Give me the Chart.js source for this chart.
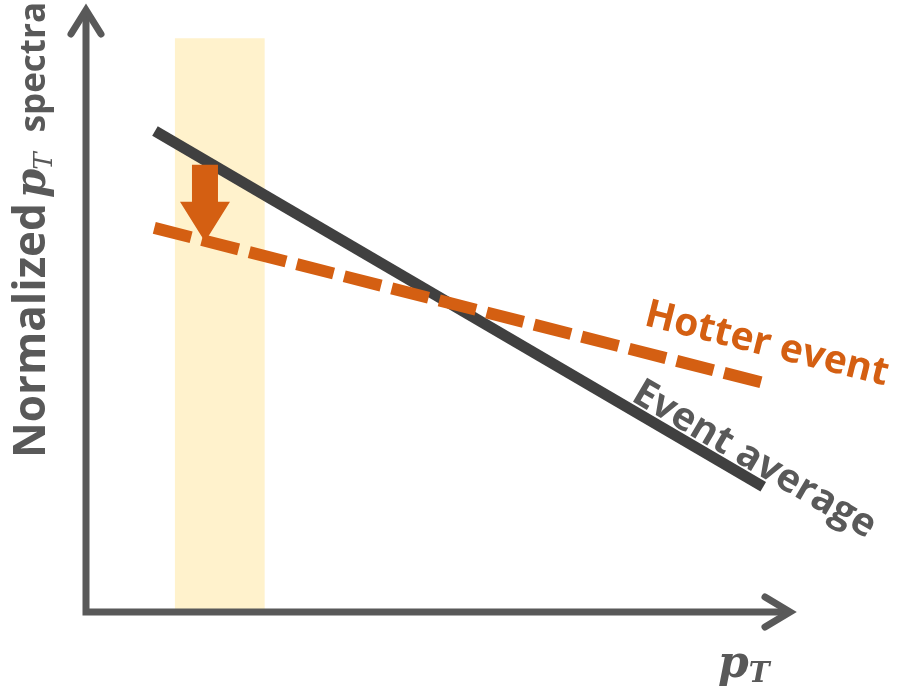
<!DOCTYPE html>
<html lang="en">
<head>
    <meta charset="UTF-8">
    <title>Normalized pT spectra</title>
    <style>
        body {
            margin: 0;
            background: #ffffff;
        }
        .chart-container {
            width: 897px;
            height: 692px;
        }
    </style>
</head>
<body>
    <div class="chart-container">
        <canvas id="spectraChart" width="897" height="692"></canvas>
    </div>

    <script src="https://cdn.jsdelivr.net/npm/chart.js"></script>
    <script>
        // axis ranges (arbitrary units, no ticks in the sketch)
        const xRange = [0, 100];
        const yRange = [0, 100];

        // event average spectrum (solid line)
        const averageX = [9.8, 96.2];
        const averageY = [79.9, 20.8];

        // hotter event spectrum (dashed line)
        const hotterX = [9.7, 96.4];
        const hotterY = [63.8, 38.0];

        // highlighted low-pT window
        const bandX = [12.6, 25.4];
        const bandTop = 95.3;

        // arrow showing the drop in the window
        const shiftX = 16.9;
        const shiftFrom = 74.3;
        const shiftTo = 61.5;

        const grey = '#595959';
        const orange = '#D45F12';

        function pts(xs, ys) {
            return xs.map((x, i) => ({ x: x, y: ys[i] }));
        }

        // draws a label made of pieces with different fonts, rotated
        function drawPieces(ctx, x, y, angle, color, pieces) {
            ctx.save();
            ctx.translate(x, y);
            ctx.rotate(angle);
            ctx.fillStyle = color;
            ctx.textBaseline = 'alphabetic';
            ctx.textAlign = 'left';
            let cx = 0;
            pieces.forEach(p => {
                ctx.font = p.font;
                ctx.fillText(p.text, cx, p.dy || 0);
                cx += ctx.measureText(p.text).width + (p.gap || 0);
            });
            ctx.restore();
        }

        const sketchPlugin = {
            id: 'sketch',
            afterDatasetsDraw(chart) {
                const ctx = chart.ctx;
                const xs = chart.scales.x;
                const ys = chart.scales.y;
                const x0 = xs.getPixelForValue(xRange[0]);
                const x1 = xs.getPixelForValue(xRange[1]);
                const y0 = ys.getPixelForValue(yRange[0]);
                const y1 = ys.getPixelForValue(yRange[1]);

                // axes with open arrow heads
                ctx.save();
                ctx.strokeStyle = grey;
                ctx.lineWidth = 7;
                ctx.lineCap = 'butt';
                ctx.beginPath();
                ctx.moveTo(x0, y0 + 3.5);
                ctx.lineTo(x0, y1 + 2);
                ctx.moveTo(x0 - 3.5, y0);
                ctx.lineTo(x1 - 2, y0);
                ctx.stroke();
                ctx.lineCap = 'round';
                ctx.lineJoin = 'miter';
                ctx.beginPath();
                ctx.moveTo(x0 - 15, y1 + 24);
                ctx.lineTo(x0, y1);
                ctx.lineTo(x0 + 15, y1 + 24);
                ctx.moveTo(x1 - 25, y0 - 15);
                ctx.lineTo(x1, y0);
                ctx.lineTo(x1 - 25, y0 + 15);
                ctx.stroke();
                ctx.restore();

                // downward shift arrow
                const ax = xs.getPixelForValue(shiftX);
                const aTop = ys.getPixelForValue(shiftFrom);
                const aTip = ys.getPixelForValue(shiftTo);
                const headLen = 40, shaft = 13, head = 25;
                ctx.save();
                ctx.fillStyle = orange;
                ctx.beginPath();
                ctx.moveTo(ax - shaft, aTop);
                ctx.lineTo(ax + shaft, aTop);
                ctx.lineTo(ax + shaft, aTip - headLen);
                ctx.lineTo(ax + head, aTip - headLen);
                ctx.lineTo(ax, aTip);
                ctx.lineTo(ax - head, aTip - headLen);
                ctx.lineTo(ax - shaft, aTip - headLen);
                ctx.closePath();
                ctx.fill();
                ctx.restore();

                // curve labels
                drawPieces(ctx, 643, 325, 0.245, orange, [
                    { text: 'Hotter event', font: 'bold 39px "Open Sans"' }
                ]);
                drawPieces(ctx, 630, 400, 0.53, grey, [
                    { text: 'Event average', font: 'bold 39px "Open Sans"' }
                ]);

                // axis titles
                drawPieces(ctx, 45, 458, -Math.PI / 2, grey, [
                    { text: 'Normalized', font: 'bold 44px "Open Sans"', gap: 5 },
                    { text: 'p', font: 'bold italic 42px "DejaVu Serif"', gap: -1 },
                    { text: 'T', font: 'italic 26px "DejaVu Serif"', dy: 7, gap: 20 },
                    { text: 'spectra', font: 'bold 35px "Open Sans"' }
                ]);
                drawPieces(ctx, 718, 677, 0, grey, [
                    { text: 'p', font: 'bold italic 44px "DejaVu Serif"' },
                    { text: 'T', font: 'bold italic 28px "DejaVu Serif"', dy: 5 }
                ]);
            }
        };

        const ctx = document.getElementById('spectraChart').getContext('2d');
        const spectraChart = new Chart(ctx, {
            type: 'scatter',
            data: {
                datasets: [
                    {
                        label: 'window',
                        data: pts(bandX, [bandTop, bandTop]),
                        order: 3,
                        showLine: true,
                        fill: 'origin',
                        backgroundColor: '#FFF2CC',
                        borderWidth: 0,
                        pointRadius: 0
                    },
                    {
                        label: 'Event average',
                        data: pts(averageX, averageY),
                        order: 2,
                        showLine: true,
                        borderColor: '#404040',
                        borderWidth: 11,
                        borderCapStyle: 'butt',
                        pointRadius: 0
                    },
                    {
                        label: 'Hotter event',
                        data: pts(hotterX, hotterY),
                        order: 1,
                        showLine: true,
                        borderColor: orange,
                        borderWidth: 12,
                        borderDash: [38, 11],
                        borderCapStyle: 'butt',
                        pointRadius: 0
                    }
                ]
            },
            options: {
                responsive: false,
                animation: false,
                layout: {
                    padding: { left: 86, right: 107, top: 10, bottom: 80 }
                },
                plugins: {
                    legend: { display: false },
                    tooltip: { enabled: false }
                },
                scales: {
                    x: { type: 'linear', min: xRange[0], max: xRange[1], display: false },
                    y: { type: 'linear', min: yRange[0], max: yRange[1], display: false }
                }
            },
            plugins: [sketchPlugin]
        });
    </script>
</body>
</html>
